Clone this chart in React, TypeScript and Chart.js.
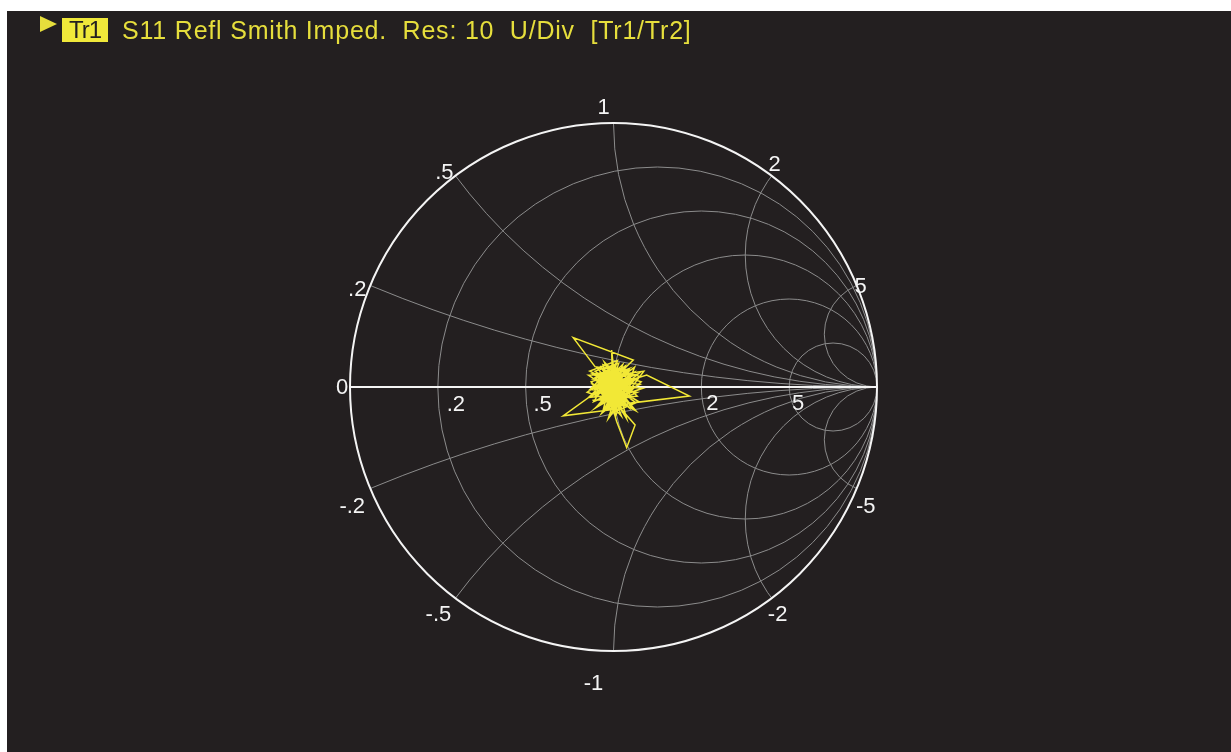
import React, { useEffect, useRef } from "react";
import { Chart, registerables } from "chart.js";

Chart.register(...registerables);

// ---- Data ----
const resistanceValues = [0.2, 0.5, 1, 2, 5];
const resistanceLabels = [".2", ".5", "1", "2", "5"];
const reactanceValues = [0, 0.2, 0.5, 1, 2, 5, -0.2, -0.5, -1, -2, -5];
const reactanceLabels = ["0", ".2", ".5", "1", "2", "5", "-.2", "-.5", "-1", "-2", "-5"];

// reflection coefficient trace (real / imaginary part of S11)
const gammaRe = [
  -0.02, 0.03, -0.05, 0.01, -0.04, 0.04, -0.01, -0.06, 0.02, -0.03,
  0.05, -0.07, -0.153, 0.075, 0.0, -0.045, 0.025, -0.015, 0.06, -0.08,
  0.01, -0.035, 0.045, -0.055, 0.08, -0.005, 0.126, 0.288, 0.056, -0.025,
  0.015, -0.065, 0.035, -0.02, 0.09, -0.09, 0.005, -0.04, 0.065, -0.01,
  -0.064, -0.191, 0.031, -0.03, 0.04, -0.05, 0.02, -0.075, 0.1, -0.015,
  0.03, -0.045, 0.055, -0.025, 0.012, 0.05, 0.082, 0.0, -0.06, 0.045,
  -0.035, 0.07, -0.005, -0.007, 0.002, -0.055, 0.025, -0.02, 0.06, -0.085,
  0.015, -0.04, 0.05, -0.01, 0.085, -0.07, 0.02, -0.03, 0.11, -0.05,
  0.0, -0.095, 0.04, -0.025, 0.07, -0.06, 0.01, -0.015, 0.035, -0.045,
  0.055, -0.075, 0.005, -0.02, 0.095, -0.035, 0.025, -0.01, -0.05, 0.015,
  -0.03, 0.0, 0.06, -0.085, 0.03, -0.04, 0.1, -0.06, 0.01, 0.07,
  -0.1, 0.045, -0.02, 0.115, -0.07, 0.0, 0.05, -0.035, 0.025, -0.08,
  0.09, -0.01, 0.04, -0.055, 0.075, -0.025, 0.015, -0.09, 0.06, -0.045,
  0.03, -0.005, 0.105, -0.065, 0.02, -0.03, 0.085, -0.075, 0.005, 0.05,
  -0.05, 0.065, -0.015, 0.035, -0.095, 0.045, -0.04, 0.01, 0.08, -0.06,
  0.0, -0.03, 0.095, -0.08, 0.025, -0.01, 0.055, -0.05, 0.015, -0.07,
  0.07, -0.02, 0.04, -0.035, 0.005, 0.06, -0.045, 0.02, -0.06, 0.03,
  -0.015, 0.01,
];
const gammaIm = [
  0.01, -0.04, 0.02, 0.05, -0.03, 0.02, -0.06, 0.04, 0.0, -0.02,
  0.06, 0.077, 0.187, 0.102, 0.03, -0.005, -0.025, 0.045, -0.01, 0.01,
  -0.08, 0.06, -0.05, -0.045, 0.03, 0.005, 0.045, -0.034, -0.062, 0.025,
  -0.015, 0.05, 0.07, -0.07, -0.02, -0.01, 0.085, -0.09, 0.04, -0.03,
  -0.018, -0.109, -0.081, 0.035, -0.005, -0.06, 0.065, 0.03, 0.01, -0.045,
  0.04, 0.07, -0.075, -0.005, -0.131, -0.23, -0.144, -0.05, 0.0, 0.03,
  -0.035, -0.04, 0.058, 0.14, 0.055, 0.025, -0.06, 0.075, 0.065, -0.035,
  0.02, 0.045, -0.03, -0.1, -0.06, 0.06, 0.09, -0.055, -0.005, 0.01,
  -0.02, 0.045, 0.05, -0.08, 0.015, -0.025, 0.04, -0.01, -0.095, 0.03,
  0.0, -0.055, 0.07, -0.04, 0.05, 0.005, 0.01, -0.065, 0.055, -0.035,
  0.0, 0.02, 0.07, 0.02, -0.11, 0.085, 0.04, -0.07, 0.01, -0.08,
  -0.02, 0.08, -0.12, 0.06, 0.035, -0.09, 0.01, 0.095, -0.045, -0.05,
  -0.035, 0.065, -0.07, 0.005, 0.055, -0.03, 0.1, 0.06, -0.015, -0.1,
  0.03, -0.075, 0.02, 0.075, -0.02, 0.05, -0.09, -0.005, 0.045, -0.12,
  0.04, 0.025, -0.05, 0.085, -0.04, -0.025, 0.015, -0.105, 0.075, -0.03,
  0.035, -0.085, -0.055, 0.05, 0.055, -0.01, -0.06, 0.08, 0.0, -0.08,
  0.0, 0.03, -0.04, -0.015, 0.075, 0.045, -0.05, -0.065, 0.02, 0.005,
  0.06, -0.03,
];

// ---- Styling / layout ----
const BG = "#231f20";
const GRID = "#8c8c8c";
const WHITE = "#f4f4f4";
const TRACE = "#f2e836";
const HEADER_YELLOW = "#e6de3c";
const LABEL_FONT = "22px 'Liberation Sans', Arial, sans-serif";
// pixel nudges of the text centre from the point where each line meets the rim / axis
const reactanceNudge: [number, number][] = [
  [-8, 1], [-13, 4], [-11, -3], [-10, -15], [3, -11], [4, 1],
  [-18, 18], [-17, 17], [-20, 33], [6, 17], [9, 18],
];
const resistanceNudge: [number, number][] = [
  [18, 18], [17, 18], [9, 13], [11, 17], [9, 17],
];

const smithGrid = {
  id: "smithGrid",
  beforeDatasetsDraw(chart: any) {
    const { ctx, scales } = chart;
    const xs = scales.x;
    const ys = scales.y;
    const px = (v: number) => xs.getPixelForValue(v);
    const py = (v: number) => ys.getPixelForValue(v);
    const sx = (px(1) - px(-1)) / 2;
    const sy = (py(-1) - py(1)) / 2;

    ctx.save();
    ctx.beginPath();
    ctx.ellipse(px(0), py(0), sx, sy, 0, 0, Math.PI * 2);
    ctx.clip();
    ctx.strokeStyle = GRID;
    ctx.lineWidth = 1;
    resistanceValues.forEach((r) => {
      const c = r / (1 + r);
      const rad = 1 / (1 + r);
      ctx.beginPath();
      ctx.ellipse(px(c), py(0), rad * sx, rad * sy, 0, 0, Math.PI * 2);
      ctx.stroke();
    });
    reactanceValues.forEach((xv) => {
      if (xv === 0) return;
      ctx.beginPath();
      ctx.ellipse(px(1), py(1 / xv), sx / Math.abs(xv), sy / Math.abs(xv), 0, 0, Math.PI * 2);
      ctx.stroke();
    });
    ctx.restore();

    ctx.save();
    ctx.strokeStyle = WHITE;
    ctx.lineWidth = 2;
    ctx.beginPath();
    ctx.moveTo(px(-1), py(0));
    ctx.lineTo(px(1), py(0));
    ctx.stroke();
    ctx.beginPath();
    ctx.ellipse(px(0), py(0), sx, sy, 0, 0, Math.PI * 2);
    ctx.stroke();

    ctx.fillStyle = WHITE;
    ctx.font = LABEL_FONT;
    ctx.textAlign = "center";
    ctx.textBaseline = "middle";
    reactanceValues.forEach((xv, i) => {
      // point where the reactance arc meets the rim: (jx-1)/(jx+1)
      const d = 1 + xv * xv;
      const re = (xv * xv - 1) / d;
      const im = (2 * xv) / d;
      const [nx, ny] = reactanceNudge[i];
      ctx.fillText(reactanceLabels[i], px(re) + nx, py(im) + ny);
    });
    resistanceValues.forEach((r, i) => {
      const re = (r - 1) / (r + 1);
      const [nx, ny] = resistanceNudge[i];
      ctx.fillText(resistanceLabels[i], px(re) + nx, py(0) + ny);
    });
    ctx.restore();
  },
};

export default function App() {
  const ref = useRef<HTMLCanvasElement | null>(null);

  useEffect(() => {
    if (!ref.current) return;
    const data = gammaRe.map((re, i) => ({ x: re, y: gammaIm[i] }));
    const chart = new Chart(ref.current, {
      type: "scatter",
      data: {
        datasets: [
          {
            label: "Tr1",
            data,
            showLine: true,
            borderColor: TRACE,
            backgroundColor: TRACE,
            borderWidth: 1.5,
            pointRadius: 0,
            tension: 0,
          },
        ],
      },
      options: {
        animation: false,
        responsive: false,
        maintainAspectRatio: false,
        layout: { padding: { left: 350, right: 354, top: 123, bottom: 101 } },
        plugins: { legend: { display: false }, tooltip: { enabled: false }, title: { display: false } },
        scales: {
          x: { type: "linear", min: -1, max: 1, display: false },
          y: { type: "linear", min: -1, max: 1, display: false },
        },
      },
      plugins: [smithGrid],
    });
    return () => chart.destroy();
  }, []);

  const headFont = "'Liberation Sans', Arial, sans-serif";

  return (
    <div style={{ position: "fixed", left: 0, top: 0, width: 1231, height: 752, background: "#ffffff", overflow: "hidden" }}>
      <div style={{ position: "absolute", left: 7, top: 11, right: 0, bottom: 0, background: BG }} />
      <canvas ref={ref} width={1231} height={752} style={{ position: "absolute", left: 0, top: 0, width: 1231, height: 752 }} />
      <div
        style={{
          position: "absolute",
          left: 40,
          top: 16,
          width: 0,
          height: 0,
          borderTop: "8px solid transparent",
          borderBottom: "8px solid transparent",
          borderLeft: "17px solid " + HEADER_YELLOW,
        }}
      />
      <div
        style={{
          position: "absolute",
          left: 62,
          top: 18,
          width: 46,
          height: 24,
          background: "#f0e83a",
          color: BG,
          fontFamily: headFont,
          fontSize: 24,
          lineHeight: "24px",
          textAlign: "center",
          letterSpacing: "-1px",
        }}
      >
        Tr1
      </div>
      <div
        style={{
          position: "absolute",
          left: 122,
          top: 17,
          color: HEADER_YELLOW,
          fontFamily: headFont,
          fontSize: 25,
          lineHeight: "26px",
          whiteSpace: "pre",
          letterSpacing: "0.8px",
        }}
      >
        {"S11 Refl Smith Imped.  Res: 10  U/Div  [Tr1/Tr2]"}
      </div>
    </div>
  );
}
